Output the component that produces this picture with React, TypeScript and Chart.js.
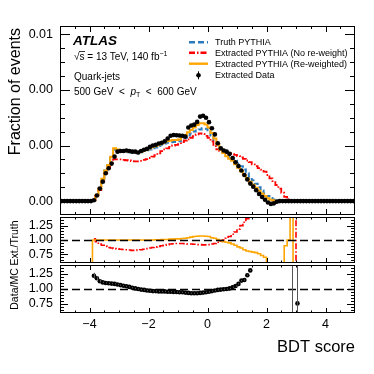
import React, { useEffect, useRef } from 'react';
import { Chart, registerables } from 'chart.js';

Chart.register(...registerables);

const FONT = '"Liberation Sans", Arial, Helvetica, sans-serif';

// ---- bins (BDT score bin centres, width 0.1) ----
const bdtBins: number[] = [
  -4.95, -4.85, -4.75, -4.65, -4.55, -4.45, -4.35, -4.25, -4.15, -4.05,
  -3.95, -3.85, -3.75, -3.65, -3.55, -3.45, -3.35, -3.25, -3.15, -3.05,
  -2.95, -2.85, -2.75, -2.65, -2.55, -2.45, -2.35, -2.25, -2.15, -2.05,
  -1.95, -1.85, -1.75, -1.65, -1.55, -1.45, -1.35, -1.25, -1.15, -1.05,
  -0.95, -0.85, -0.75, -0.65, -0.55, -0.45, -0.35, -0.25, -0.15, -0.05,
  0.05, 0.15, 0.25, 0.35, 0.45, 0.55, 0.65, 0.75, 0.85, 0.95,
  1.05, 1.15, 1.25, 1.35, 1.45, 1.55, 1.65, 1.75, 1.85, 1.95,
  2.05, 2.15, 2.25, 2.35, 2.45, 2.55, 2.65, 2.75, 2.85, 2.95,
  3.05, 3.15, 3.25, 3.35, 3.45, 3.55, 3.65, 3.75, 3.85, 3.95,
  4.05, 4.15, 4.25, 4.35, 4.45, 4.55, 4.65, 4.75, 4.85, 4.95,
];

// ---- main panel: fraction of events ----
const truthPythia: number[] = [
  0, 0, 0, 0, 0, 0, 0, 0, 0, 0,
  0, 0.00003, 0.0002, 0.00045, 0.0008, 0.0011, 0.0013, 0.0016, 0.00185, 0.00182,
  0.00178, 0.00178, 0.00178, 0.00176, 0.00175, 0.00175, 0.00172, 0.00176, 0.0018, 0.00183,
  0.00186, 0.0019, 0.00193, 0.00198, 0.00203, 0.00207, 0.0021, 0.00212, 0.00213, 0.00213,
  0.00215, 0.00222, 0.00228, 0.00236, 0.00243, 0.0025, 0.00254, 0.00258, 0.00262, 0.0026,
  0.0025, 0.00236, 0.00218, 0.002, 0.00186, 0.00178, 0.00168, 0.0016, 0.00155, 0.00145,
  0.00135, 0.00125, 0.00114, 0.001, 0.00088, 0.00075, 0.00062, 0.0005, 0.00038, 0.00027,
  0.00018, 0.00011, 0.00006, 0.00003, 0.00001, 0, 0, 0, 0, 0,
  0, 0, 0, 0, 0, 0, 0, 0, 0, 0,
  0, 0, 0, 0, 0, 0, 0, 0, 0, 0,
];

const extractedNoReweight: number[] = [
  0, 0, 0, 0, 0, 0, 0, 0, 0, 0,
  0, 0.00003, 0.0002, 0.0004, 0.0007, 0.001, 0.0012, 0.00138, 0.0015, 0.0015,
  0.0015, 0.00148, 0.00147, 0.00146, 0.00144, 0.00143, 0.00143, 0.00145, 0.00148, 0.00151,
  0.00155, 0.0016, 0.00165, 0.00172, 0.0018, 0.00186, 0.0019, 0.00195, 0.002, 0.00202,
  0.00205, 0.00212, 0.00218, 0.00222, 0.00228, 0.00234, 0.0024, 0.00244, 0.00242, 0.00235,
  0.00228, 0.00215, 0.00198, 0.00186, 0.0018, 0.00178, 0.00175, 0.00172, 0.00169, 0.00166,
  0.00162, 0.00157, 0.00152, 0.00146, 0.0014, 0.00132, 0.00126, 0.00119, 0.00113, 0.00106,
  0.00094, 0.00082, 0.00072, 0.00058, 0.00045, 0.0003, 0.00015, 0.00006, 0.00002, 0.00001,
  0, 0, 0, 0, 0, 0, 0, 0, 0, 0,
  0, 0, 0, 0, 0, 0, 0, 0, 0, 0,
];

const extractedReweighted: number[] = [
  0, 0, 0, 0, 0, 0, 0, 0, 0, 0,
  0, 0.00003, 0.0002, 0.00045, 0.0008, 0.0011, 0.0013, 0.0016, 0.0019, 0.00186,
  0.0018, 0.0018, 0.0018, 0.00178, 0.00177, 0.00177, 0.00174, 0.00178, 0.00182, 0.00186,
  0.0019, 0.00195, 0.00198, 0.00203, 0.00208, 0.00212, 0.00216, 0.00218, 0.0022, 0.0022,
  0.00222, 0.00232, 0.00238, 0.00248, 0.00256, 0.00265, 0.00274, 0.0028, 0.0028, 0.00276,
  0.00265, 0.00245, 0.00225, 0.00204, 0.00186, 0.00173, 0.00161, 0.00152, 0.00145, 0.00133,
  0.0012, 0.00107, 0.00094, 0.00081, 0.0007, 0.00059, 0.00048, 0.00037, 0.00027, 0.00018,
  0.0001, 0.00005, 0.00002, 0, 0, 0, 0, 0, 0, 0,
  0, 0, 0, 0, 0, 0, 0, 0, 0, 0,
  0, 0, 0, 0, 0, 0, 0, 0, 0, 0,
];

const extractedData: number[] = [
  0, 0, 0, 0, 0, 0, 0, 0, 0, 0,
  0, 0.00003, 0.0002, 0.00045, 0.0007, 0.001, 0.00118, 0.00135, 0.0016, 0.00178,
  0.0018, 0.0018, 0.00182, 0.0018, 0.00178, 0.00178, 0.00175, 0.0018, 0.00185, 0.00188,
  0.00195, 0.002, 0.00203, 0.00207, 0.0021, 0.00215, 0.00225, 0.00235, 0.00238, 0.00237,
  0.00236, 0.00235, 0.00232, 0.00265, 0.00272, 0.00275, 0.00285, 0.00304, 0.00307, 0.003,
  0.00284, 0.00262, 0.0024, 0.00208, 0.0019, 0.00182, 0.00178, 0.0017, 0.00155, 0.0014,
  0.00126, 0.0011, 0.00094, 0.00078, 0.00063, 0.00052, 0.00039, 0.00026, 0.00015, 0.00005,
  -0.00005, -0.0001, -0.00008, -0.00002, 0, 0, 0, 0, 0, 0,
  0, 0, 0, 0, 0, 0, 0, 0, 0, 0,
  0, 0, 0, 0, 0, 0, 0, 0, 0, 0,
];

// ---- ratio panel 1: Extracted / Truth ----
const ratioReweighted: (number | null)[] = [
  null, null, null, null, null, null, null, null, null, null,
  0, 1.0, 1.0, 1.0, 1.0, 1.0, 1.0, 1.0, 1.0, 1.0,
  1.0, 1.0, 1.0, 1.0, 1.0, 1.0, 1.0, 1.0, 1.0, 1.0,
  1.0, 1.0, 1.005, 1.005, 1.01, 1.01, 1.01, 1.015, 1.015, 1.02,
  1.02, 1.025, 1.03, 1.04, 1.05, 1.06, 1.065, 1.07, 1.07, 1.065,
  1.06, 1.04, 1.03, 1.01, 0.99, 0.97, 0.96, 0.95, 0.93, 0.91,
  0.88, 0.86, 0.83, 0.81, 0.8, 0.79, 0.78, 0.76, 0.73, 0.7,
  0.5, 0.45, 0.4, 0.35, 0.3, 0.3, 0.9, 1.0, 5, 0,
  null, null, null, null, null, null, null, null, null, null,
  null, null, null, null, null, null, null, null, null, null,
];

const ratioNoReweight: (number | null)[] = [
  null, null, null, null, null, null, null, null, null, null,
  null, 1.02, 0.97, 0.93, 0.91, 0.89, 0.87, 0.86, 0.85, 0.845,
  0.84, 0.835, 0.83, 0.825, 0.82, 0.82, 0.825, 0.83, 0.84, 0.85,
  0.86, 0.87, 0.88, 0.89, 0.9, 0.91, 0.92, 0.93, 0.935, 0.94,
  0.94, 0.94, 0.935, 0.93, 0.93, 0.925, 0.92, 0.92, 0.915, 0.915,
  0.92, 0.93, 0.94, 0.96, 0.98, 1.0, 1.03, 1.06, 1.1, 1.14,
  1.19, 1.25, 1.31, 1.37, 1.45, 1.6, 1.8, 2.0, 2.2, 2.5,
  3, 3, 3, 3, 3, 3, 3, 3, 3, 3,
  0, null, null, null, null, null, null, null, null, null,
  null, null, null, null, null, null, null, null, null, null,
];

// ---- ratio panel 2: Data / MC ----
const ratioDataMC: (number | null)[] = [
  null, null, null, null, null, null, null, null, null, null,
  null, 1.22, 1.18, 1.13, 1.11, 1.1, 1.095, 1.09, 1.085, 1.075,
  1.065, 1.055, 1.045, 1.035, 1.02, 1.01, 1.0, 0.99, 0.985, 0.975,
  0.97, 0.965, 0.965, 0.96, 0.96, 0.96, 0.955, 0.955, 0.95, 0.95,
  0.945, 0.945, 0.94, 0.935, 0.93, 0.93, 0.93, 0.935, 0.94, 0.945,
  0.955, 0.965, 0.975, 0.985, 0.99, 0.995, 1.0, 1.01, 1.03, 1.05,
  1.085, 1.14, 1.15, 1.23, 1.31, 1.5, null, null, null, null,
  null, null, null, null, null, null, null, null, 3, null,
  0.76, null, null, null, null, null, null, null, null, null,
  null, null, null, null, null, null, null, null, null, null,
];

const ratioDataMCErr: number[] = [
  0, 0, 0, 0, 0, 0, 0, 0, 0, 0,
  0, 0.05, 0.03, 0.02, 0.01, 0.01, 0.01, 0.01, 0.01, 0.01,
  0.01, 0.01, 0.01, 0.01, 0.01, 0.01, 0.01, 0.01, 0.01, 0.01,
  0.01, 0.01, 0.01, 0.01, 0.01, 0.01, 0.01, 0.01, 0.01, 0.01,
  0.01, 0.01, 0.01, 0.01, 0.01, 0.01, 0.01, 0.01, 0.01, 0.01,
  0.01, 0.01, 0.01, 0.01, 0.01, 0.01, 0.01, 0.01, 0.01, 0.01,
  0.01, 0.01, 0.01, 0.01, 0.01, 0.02, 0, 0, 0, 0,
  0, 0, 0, 0, 0, 0, 0, 0, 3, 0,
  0.9, 0, 0, 0, 0, 0, 0, 0, 0, 0,
  0, 0, 0, 0, 0, 0, 0, 0, 0, 0,
];

const xTickValues = [-4, -2, 0, 2, 4];
const mainYTicks = [0, 0.002, 0.004, 0.006];
const ratioYTicks = [0.75, 1.0, 1.25];

const legendLabels = [
  'Truth PYTHIA',
  'Extracted PYTHIA (No re-weight)',
  'Extracted PYTHIA (Re-weighted)',
  'Extracted Data',
];

const COL_BLUE = '#2b7bbf';
const COL_RED = '#ff0000';
const COL_ORANGE = '#ffa500';
const DASH_BLUE = [5, 3];
const DASH_RED = [6, 2, 1.5, 2];

type Kind = 'main' | 'r1' | 'r2';

const AREA: Record<Kind, { top: number; bottom: number }> = {
  main: { top: 26, bottom: 215 },
  r1: { top: 217, bottom: 263 },
  r2: { top: 265, bottom: 313 },
};
const CANVAS = 374;
const PLOT_LEFT = 60;
const PLOT_RIGHT = 355;
const X_AXIS_H = 40;

const toXY = (vals: (number | null)[]) => bdtBins.map((x, i) => ({ x, y: vals[i] }));

function drawParts(ctx: CanvasRenderingContext2D, parts: { t: string; f: string; dy?: number }[], x: number, y: number) {
  let cx = x;
  for (const p of parts) {
    ctx.font = p.f;
    ctx.fillText(p.t, cx, y + (p.dy || 0));
    cx += ctx.measureText(p.t).width;
  }
  return cx;
}

function decorPlugin(kind: Kind) {
  return {
    id: 'decor_' + kind,
    afterDatasetsDraw(chart: any) {
      const { ctx, chartArea: a, scales } = chart;
      const xs = scales.x;
      const ys = scales.y;
      ctx.save();
      ctx.strokeStyle = '#000';
      ctx.fillStyle = '#000';

      if (kind !== 'main') {
        const y1 = Math.round(ys.getPixelForValue(1)) + 0.5;
        ctx.setLineDash([8, 4]);
        ctx.lineWidth = 1.6;
        ctx.beginPath();
        ctx.moveTo(a.left, y1);
        ctx.lineTo(a.right, y1);
        ctx.stroke();
        ctx.setLineDash([]);
      }

      if (kind === 'r2') {
        ctx.save();
        ctx.beginPath();
        ctx.rect(a.left, a.top, a.right - a.left, a.bottom - a.top);
        ctx.clip();
        ctx.strokeStyle = '#555';
        ctx.lineWidth = 1;
        bdtBins.forEach((x, i) => {
          const v = ratioDataMC[i];
          const e = ratioDataMCErr[i];
          if (v === null || !e) return;
          const px = Math.round(xs.getPixelForValue(x)) + 0.5;
          ctx.beginPath();
          ctx.moveTo(px, ys.getPixelForValue(v - e));
          ctx.lineTo(px, ys.getPixelForValue(v + e));
          ctx.stroke();
        });
        ctx.restore();
      }

      // frame
      ctx.lineWidth = 1;
      ctx.strokeStyle = '#000';
      ctx.strokeRect(a.left + 0.5, a.top + 0.5, a.right - a.left - 1, a.bottom - a.top - 1);

      // x ticks (inward, top and bottom)
      const xMaj = kind === 'main' ? 6 : 5;
      const xMin = kind === 'main' ? 3 : 2.5;
      for (let i = -9; i <= 9; i++) {
        const v = i * 0.5;
        const px = Math.round(xs.getPixelForValue(v)) + 0.5;
        const len = i % 4 === 0 ? xMaj : xMin;
        ctx.beginPath();
        ctx.moveTo(px, a.bottom);
        ctx.lineTo(px, a.bottom - len);
        ctx.moveTo(px, a.top);
        ctx.lineTo(px, a.top + len);
        ctx.stroke();
      }
      // y ticks (inward, left and right)
      const yt: { v: number; major: boolean }[] = [];
      if (kind === 'main') {
        for (let i = 0; i <= 12; i++) yt.push({ v: i * 0.0005, major: i % 4 === 0 });
      } else {
        for (let i = 13; i <= 27; i++) yt.push({ v: i * 0.05, major: i % 5 === 0 });
      }
      const yMaj = kind === 'main' ? 10 : 8;
      const yMin = kind === 'main' ? 5 : 4;
      for (const t of yt) {
        const py = Math.round(ys.getPixelForValue(t.v)) + 0.5;
        if (py <= a.top + 1 || py >= a.bottom - 1) continue;
        const len = t.major ? yMaj : yMin;
        ctx.beginPath();
        ctx.moveTo(a.left, py);
        ctx.lineTo(a.left + len, py);
        ctx.moveTo(a.right, py);
        ctx.lineTo(a.right - len, py);
        ctx.stroke();
      }

      // axis titles & annotations
      ctx.textBaseline = 'alphabetic';
      if (kind === 'main') {
        ctx.save();
        ctx.translate(20, a.top + 2);
        ctx.rotate(-Math.PI / 2);
        ctx.textAlign = 'right';
        ctx.font = `16px ${FONT}`;
        ctx.fillText('Fraction of events', 0, 0);
        ctx.restore();

        ctx.textAlign = 'left';
        ctx.font = `bold italic 13.5px ${FONT}`;
        ctx.fillText('ATLAS', 73, 45);

        const f10 = `10px ${FONT}`;
        const f7 = `7px ${FONT}`;
        const sx = 74;
        ctx.font = f10;
        ctx.fillText('√', sx, 60);
        const sw = ctx.measureText('√').width;
        const ss = ctx.measureText('s').width;
        ctx.lineWidth = 0.8;
        ctx.beginPath();
        ctx.moveTo(sx + sw - 0.5, 51.5);
        ctx.lineTo(sx + sw + ss + 0.5, 51.5);
        ctx.stroke();
        let cx = drawParts(ctx, [{ t: 's', f: f10 }, { t: ' = 13 TeV, 140 fb', f: f10 }], sx + sw, 60);
        drawParts(ctx, [{ t: '−1', f: f7, dy: -4.5 }], cx, 60);

        ctx.font = f10;
        ctx.fillText('Quark-jets', 74, 79.5);

        drawParts(ctx, [
          { t: '500 GeV  <  ', f: f10 },
          { t: 'p', f: `italic ${f10}` },
          { t: 'T', f: f7, dy: 2.5 },
          { t: '  <  600 GeV', f: f10 },
        ], 74, 94.5);

        // legend
        const lx0 = 189, lx1 = 208, tx = 215;
        const ly = [42.3, 52.7, 63.7, 75.3];
        ctx.lineWidth = 2.4;
        ctx.strokeStyle = COL_BLUE;
        ctx.setLineDash([6, 3]);
        ctx.beginPath(); ctx.moveTo(lx0, ly[0]); ctx.lineTo(lx1, ly[0]); ctx.stroke();
        ctx.strokeStyle = COL_RED;
        ctx.setLineDash(DASH_RED);
        ctx.beginPath(); ctx.moveTo(lx0, ly[1]); ctx.lineTo(lx1, ly[1]); ctx.stroke();
        ctx.strokeStyle = COL_ORANGE;
        ctx.setLineDash([]);
        ctx.beginPath(); ctx.moveTo(lx0, ly[2]); ctx.lineTo(lx1, ly[2]); ctx.stroke();
        ctx.strokeStyle = '#000';
        ctx.lineWidth = 1;
        ctx.beginPath(); ctx.moveTo(198.5, ly[3] - 4); ctx.lineTo(198.5, ly[3] + 4); ctx.stroke();
        ctx.beginPath(); ctx.arc(198.5, ly[3], 2.3, 0, Math.PI * 2); ctx.fill();

        ctx.font = `9px ${FONT}`;
        ctx.textBaseline = 'middle';
        legendLabels.forEach((l, i) => ctx.fillText(l, tx, ly[i] + 0.5));
      } else {
        ctx.save();
        const title = kind === 'r1' ? 'Ext./Truth' : 'Data/MC';
        ctx.translate(18, (a.top + a.bottom) / 2 + (kind === 'r1' ? 3 : 0));
        ctx.rotate(-Math.PI / 2);
        ctx.textAlign = 'center';
        ctx.font = `10.5px ${FONT}`;
        ctx.fillText(title, 0, 0);
        ctx.restore();
        if (kind === 'r2') {
          ctx.textAlign = 'right';
          ctx.font = `16.5px ${FONT}`;
          ctx.fillText('BDT score', PLOT_RIGHT, 352);
        }
      }
      ctx.restore();
    },
  };
}

function buildConfig(kind: Kind): any {
  const lineBase = {
    type: 'line',
    stepped: 'middle',
    pointRadius: 0,
    pointHoverRadius: 0,
    fill: false,
    spanGaps: false,
  };
  const pointBase = {
    type: 'line',
    showLine: false,
    pointRadius: 2.3,
    pointHoverRadius: 0,
    pointBorderWidth: 0,
    pointBackgroundColor: '#000',
    borderColor: '#000',
  };
  let datasets: any[] = [];
  if (kind === 'main') {
    datasets = [
      { ...pointBase, label: legendLabels[3], data: toXY(extractedData), order: 0 },
      { ...lineBase, label: legendLabels[2], data: toXY(extractedReweighted), borderColor: COL_ORANGE, borderWidth: 2, order: 1 },
      { ...lineBase, label: legendLabels[1], data: toXY(extractedNoReweight), borderColor: COL_RED, borderWidth: 1.8, borderDash: DASH_RED, order: 2 },
      { ...lineBase, label: legendLabels[0], data: toXY(truthPythia), borderColor: COL_BLUE, borderWidth: 2, borderDash: DASH_BLUE, order: 3 },
    ];
  } else if (kind === 'r1') {
    datasets = [
      { ...lineBase, label: 'Re-weighted / Truth', data: toXY(ratioReweighted), borderColor: COL_ORANGE, borderWidth: 1.6, order: 1 },
      { ...lineBase, label: 'No re-weight / Truth', data: toXY(ratioNoReweight), borderColor: COL_RED, borderWidth: 1.6, borderDash: DASH_RED, order: 2 },
    ];
  } else {
    datasets = [{ ...pointBase, label: 'Data/MC', data: toXY(ratioDataMC), order: 0 }];
  }

  const isMain = kind === 'main';
  const showX = kind === 'r2';
  const area = AREA[kind];
  const padBottom = CANVAS - area.bottom - (showX ? X_AXIS_H : 0);

  return {
    type: 'line',
    data: { datasets },
    plugins: [decorPlugin(kind)],
    options: {
      animation: false,
      responsive: false,
      devicePixelRatio: 1,
      events: [],
      layout: { padding: { top: area.top, bottom: padBottom, left: 0, right: CANVAS - PLOT_RIGHT } },
      plugins: { legend: { display: false }, tooltip: { enabled: false }, title: { display: false } },
      scales: {
        x: {
          type: 'linear',
          min: -5,
          max: 5,
          display: showX,
          grid: { display: false, drawTicks: false },
          border: { display: false },
          afterBuildTicks: (s: any) => { s.ticks = xTickValues.map((v) => ({ value: v })); },
          afterFit: (s: any) => { if (showX) s.height = X_AXIS_H; },
          ticks: {
            padding: 4,
            maxRotation: 0,
            autoSkip: false,
            color: '#000',
            font: { family: FONT, size: 12.5 },
            callback: (v: any) => (v < 0 ? '−' + Math.abs(v) : String(v)),
          },
        },
        y: {
          type: 'linear',
          min: isMain ? -0.0005 : 0.6,
          max: isMain ? 0.0063 : 1.4,
          grid: { display: false, drawTicks: false },
          border: { display: false },
          afterBuildTicks: (s: any) => { s.ticks = (isMain ? mainYTicks : ratioYTicks).map((v) => ({ value: v })); },
          afterFit: (s: any) => { s.width = PLOT_LEFT; },
          ticks: {
            padding: 7,
            autoSkip: false,
            color: '#000',
            font: { family: FONT, size: 12.5 },
            callback: (v: any) => Number(v).toFixed(2),
          },
        },
      },
    },
  };
}

export default function App() {
  const mainRef = useRef<HTMLCanvasElement | null>(null);
  const r1Ref = useRef<HTMLCanvasElement | null>(null);
  const r2Ref = useRef<HTMLCanvasElement | null>(null);

  useEffect(() => {
    const charts: Chart[] = [];
    const pairs: [HTMLCanvasElement | null, Kind][] = [
      [mainRef.current, 'main'],
      [r1Ref.current, 'r1'],
      [r2Ref.current, 'r2'],
    ];
    for (const [c, k] of pairs) {
      if (c) charts.push(new Chart(c, buildConfig(k)));
    }
    return () => charts.forEach((ch) => ch.destroy());
  }, []);

  const cs: React.CSSProperties = { position: 'absolute', left: 0, top: 0, width: CANVAS, height: CANVAS };
  return (
    <div style={{ position: 'fixed', left: 0, top: 0, width: CANVAS, height: CANVAS, background: '#fff' }}>
      <canvas ref={mainRef} width={CANVAS} height={CANVAS} style={cs} />
      <canvas ref={r1Ref} width={CANVAS} height={CANVAS} style={cs} />
      <canvas ref={r2Ref} width={CANVAS} height={CANVAS} style={cs} />
    </div>
  );
}
